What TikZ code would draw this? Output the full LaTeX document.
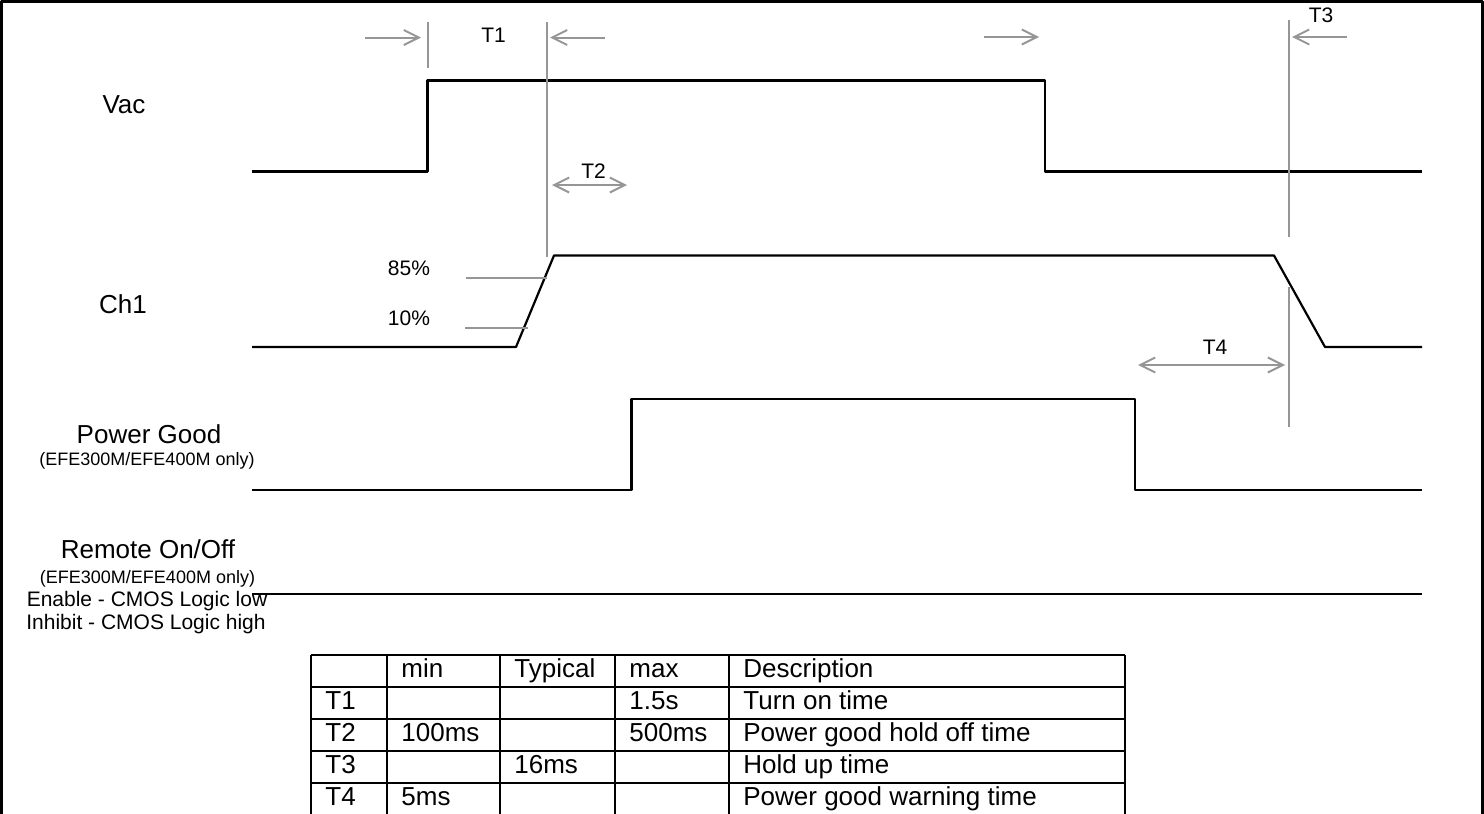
\documentclass[tikz,border=0pt]{standalone}
\usepackage{fontspec}
\setmainfont{Liberation Sans}
\usetikzlibrary{arrows.meta}
\definecolor{gline}{RGB}{150,150,150}
\begin{document}
\begin{tikzpicture}[x=0.5pt,y=-0.5pt,line join=round,>={Straight Barb[length=7.5pt,width=7.5pt]},font=\fontsize{13}{15}\selectfont,
  sig/.style={line width=1.1pt},
  tick/.style={gline,line width=1pt},
  grid/.style={line width=1.4pt},
  lab/.style={anchor=base,inner sep=0pt},
  small/.style={lab,font=\fontsize{10.5}{12}\selectfont},
  tiny/.style={lab,font=\fontsize{9}{11}\selectfont},
  cell/.style={anchor=base west,inner sep=0pt}]
\useasboundingbox (0,0) rectangle (1484,814);
\def\xs{252} \def\xe{1422}
\def\vh{80.5} \def\vl{171.5}
\def\ch{255.5} \def\cl{347}
\def\ph{399} \def\pl{490}
\draw[line width=1.5pt] (1.5,814)--(1.5,1)--(1482.5,1)--(1482.5,814);
\node[lab] (vac) at (124,113) {Vac};
\node[lab] (ch1) at (123,313) {Ch1};
\node[lab] (pg) at (149,443) {Power Good};
\node[tiny] (pgsub) at (147,465) {(EFE300M/EFE400M only)};
\node[lab] (rem) at (148,558) {Remote On/Off};
\node[tiny] (remsub) at (147.5,583) {(EFE300M/EFE400M only)};
\node[small] (en) at (147,606) {Enable - CMOS Logic low};
\node[small] (inh) at (146,629) {Inhibit - CMOS Logic high};
\draw[sig] (\xs,\vl)--(427.5,\vl)--(427.5,\vh)--(1045,\vh)--(1045,\vl)--(\xe,\vl);
\draw[sig] (\xs,\cl)--(516,\cl)--(554,\ch)--(1274,\ch)--(1325,\cl)--(\xe,\cl);
\draw[sig] (\xs,\pl)--(631.5,\pl)--(631.5,\ph)--(1135,\ph)--(1135,\pl)--(\xe,\pl);
\draw[sig] (\xs,594)--(\xe,594);
\draw[tick] (427.5,22)--(427.5,68) (547,22)--(547,257) (1288.5,20)--(1288.5,237) (1289,287)--(1289,427);
\draw[tick] (466,277.7)--(547,277.7) (465,327.7)--(528,327.7);
\node[small] (p85) at (409,275) {85\%};
\node[small] (p10) at (409,325) {10\%};
\draw[tick,->] (365,37.5)--(421,37.5);
\draw[tick,->] (605,37.5)--(550,37.5);
\draw[tick,->] (984,37)--(1039,37);
\draw[tick,->] (1347,37)--(1292,37);
\draw[tick,<->] (552,185)--(627,185);
\draw[tick,<->] (1138,365)--(1285,365);
\node[small] (t1) at (493.5,42) {T1};
\node[small] (t2) at (593.5,178) {T2};
\node[small] (t3) at (1321,22) {T3};
\node[small] (t4) at (1215,354) {T4};
\foreach \y in {655,687,719,751,783} \draw[grid] (311,\y)--(1125,\y);
\foreach \x in {311,387,500,615,729,1125} \draw[grid] (\x,655)--(\x,814);
\foreach \x/\y/\t in {387/655/min,500/655/Typical,615/655/max,729/655/Description,
  311/687/T1,615/687/1.5s,729/687/Turn on time,
  311/719/T2,387/719/100ms,615/719/500ms,729/719/Power good hold off time,
  311/751/T3,500/751/16ms,729/751/Hold up time,
  311/783/T4,387/783/5ms,729/783/Power good warning time}
  \node[cell] (c\x-\y) at (\x+14,\y+22) {\t};
\end{tikzpicture}
\end{document}
